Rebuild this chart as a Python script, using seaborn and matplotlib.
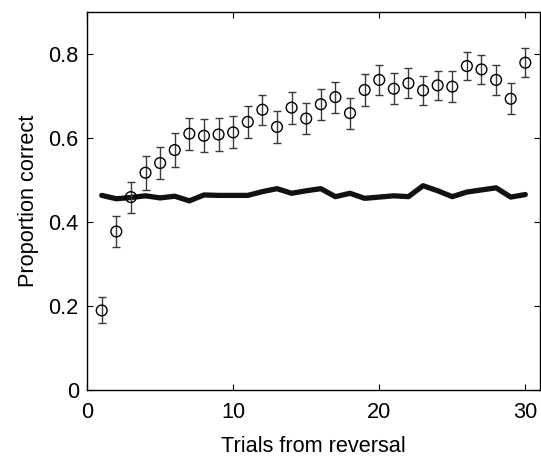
import numpy as np
import pandas as pd
import matplotlib
matplotlib.use('Agg')
import matplotlib.pyplot as plt
import seaborn as sns

# trials 1..30
trials = list(range(1, 31))

# observed proportion correct (circles) and its error
prop_correct = [0.189, 0.377, 0.459, 0.517, 0.540, 0.571, 0.610, 0.605, 0.608, 0.613,
                0.638, 0.667, 0.626, 0.672, 0.646, 0.680, 0.697, 0.659, 0.714, 0.738,
                0.717, 0.730, 0.713, 0.725, 0.722, 0.771, 0.763, 0.738, 0.693, 0.779]
prop_err = [0.031, 0.037, 0.037, 0.040, 0.039, 0.040, 0.038, 0.039, 0.040, 0.038,
            0.038, 0.036, 0.039, 0.038, 0.037, 0.037, 0.037, 0.037, 0.037, 0.035,
            0.037, 0.036, 0.035, 0.035, 0.037, 0.034, 0.035, 0.036, 0.037, 0.034]

# model / chance line (thick black)
model_line = [0.463, 0.455, 0.458, 0.462, 0.457, 0.461, 0.450, 0.464, 0.463, 0.463,
              0.463, 0.472, 0.479, 0.468, 0.474, 0.479, 0.460, 0.468, 0.456, 0.459,
              0.462, 0.460, 0.486, 0.474, 0.460, 0.471, 0.476, 0.481, 0.459, 0.465]

y_ticks = [0, 0.2, 0.4, 0.6, 0.8]
y_ticklabels = ['0', '0.2', '0.4', '0.6', '0.8']
x_ticks = [0, 10, 20, 30]

df = pd.DataFrame({'trial': trials, 'prop': prop_correct, 'err': prop_err, 'model': model_line})

sns.set_style('ticks')
plt.rcParams['font.family'] = ['Liberation Sans', 'DejaVu Sans']
plt.rcParams['text.color'] = 'black'
plt.rcParams['axes.labelcolor'] = 'black'
plt.rcParams['xtick.color'] = 'black'
plt.rcParams['ytick.color'] = 'black'
plt.rcParams['axes.edgecolor'] = 'black'

fs = 15.7

fig = plt.figure(figsize=(5.41, 4.57), dpi=100)
ax = fig.add_axes([0.161, 0.147, 0.837, 0.827])

# thick line
sns.lineplot(data=df, x='trial', y='model', ax=ax, color='#111111', linewidth=3.8,
             legend=False, zorder=2)

# error bars + open circles
ax.errorbar(df['trial'], df['prop'], yerr=df['err'], fmt='none', ecolor='#3a3a3a',
            elinewidth=1.0, capsize=3, capthick=1.0, zorder=3)
sns.scatterplot(data=df, x='trial', y='prop', ax=ax, marker='o', s=60,
                facecolor='none', edgecolor='black', linewidth=1.0, zorder=4)

ax.set_xlim(0, 31)
ax.set_ylim(0, 0.9)
ax.set_xticks(x_ticks)
ax.set_yticks(y_ticks)
ax.set_yticklabels(y_ticklabels)
ax.tick_params(direction='in', top=True, right=True, length=4, width=0.8,
               labelsize=fs)
ax.tick_params(axis='x', pad=9)
ax.tick_params(axis='y', pad=6)
for s in ax.spines.values():
    s.set_linewidth(1.0)
    s.set_visible(True)

ax.set_xlabel('Trials from reversal', fontsize=fs, labelpad=9)
ax.set_ylabel('Proportion correct', fontsize=fs, labelpad=7)

fig.savefig('out.png', dpi=100)
